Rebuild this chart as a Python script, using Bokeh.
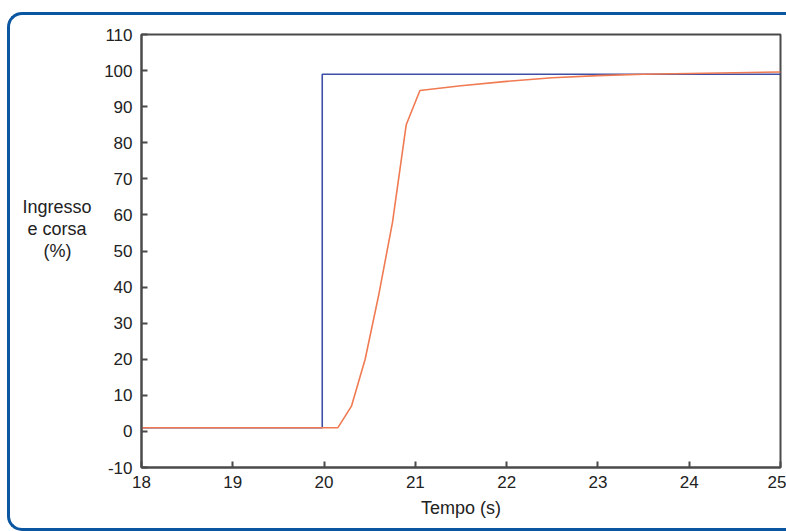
from bokeh.plotting import figure
from bokeh.models import Range1d, FixedTicker, InlineStyleSheet, LinearAxis
from bokeh.embed import file_html
from bokeh.resources import INLINE

# data
input_t = [18.0, 19.98, 19.98, 25.0]
input_v = [1.0, 1.0, 99.0, 99.0]
stroke_t = [18.0, 20.15, 20.3, 20.45, 20.6, 20.75, 20.9, 21.05, 21.5, 22.0, 22.5, 23.0, 23.5, 24.0, 24.5, 25.0]
stroke_v = [1.0, 1.0, 7.0, 20.0, 38.0, 58.0, 85.0, 94.5, 95.8, 97.0, 98.0, 98.6, 99.0, 99.2, 99.4, 99.6]
x_ticks = [18, 19, 20, 21, 22, 23, 24, 25]
y_ticks = [-10, 0, 10, 20, 30, 40, 50, 60, 70, 80, 90, 100, 110]
y_label_lines = ["Ingresso", "e corsa", "(%)"]
x_label = "Tempo (s)"

FONT = "Liberation Sans"
AXC = "#4a4a4a"
NB = "\u00a0"

p = figure(width=786, height=531, output_backend="svg", toolbar_location=None,
           x_range=Range1d(18, 25), y_range=Range1d(-10, 110),
           min_border_left=141, min_border_right=6, min_border_top=34, min_border_bottom=64)
p.background_fill_color = "white"
p.border_fill_color = "white"
p.grid.visible = False
p.outline_line_color = AXC
p.outline_line_width = 2

for ax in (p.xaxis[0], p.yaxis[0]):
    ax.axis_line_color = AXC
    ax.axis_line_width = 2
    ax.major_tick_line_color = AXC
    ax.major_tick_line_width = 2
    ax.major_tick_in = 6
    ax.major_tick_out = 0
    ax.minor_tick_line_color = None
    ax.major_label_text_font = FONT
    ax.major_label_text_font_size = "17px"
    ax.major_label_text_color = "#222222"
    ax.axis_label_text_font = FONT
    ax.axis_label_text_font_size = "18px"
    ax.axis_label_text_font_style = "normal"
    ax.axis_label_text_color = "#222222"

p.xaxis[0].ticker = FixedTicker(ticks=x_ticks)
p.yaxis[0].ticker = FixedTicker(ticks=y_ticks)
p.yaxis[0].major_label_overrides = {t: str(t) for t in y_ticks}
p.xaxis[0].major_label_overrides = {t: str(t) for t in x_ticks}
p.xaxis[0].major_label_standoff = 8
p.yaxis[0].major_label_standoff = 9
p.xaxis[0].axis_label = x_label
p.xaxis[0].axis_label_standoff = 7

# y label: a tick-less axis carrying the three-line label
lab_axis = LinearAxis(ticker=FixedTicker(ticks=[]),
                      axis_line_color=None, major_tick_line_color=None,
                      minor_tick_line_color=None, major_tick_in=0, major_tick_out=0,
                      major_label_text_font_size="1px")
pads = [0, 1, 4]  # non-breaking spaces to centre the right-aligned lines
lines = [t + NB * n for t, n in zip(y_label_lines, pads)] + [NB, NB]  # trailing blank lines lift the block
lab_axis.axis_label = "\n".join(lines)
lab_axis.axis_label_orientation = "horizontal"
lab_axis.axis_label_standoff = 10
lab_axis.axis_label_text_font = FONT
lab_axis.axis_label_text_font_size = "18px"
lab_axis.axis_label_text_font_style = "normal"
lab_axis.axis_label_text_color = "#222222"
lab_axis.axis_label_text_line_height = 1.1
p.add_layout(lab_axis, "left")

p.line(input_t, input_v, line_color="#3f4fa6", line_width=1.6)
p.line(stroke_t, stroke_v, line_color="#f07a52", line_width=1.6)

# rounded blue outer frame, drawn as a CSS overlay that does not affect layout
p.stylesheets = [InlineStyleSheet(css="""
:host::after {
  content: "";
  position: absolute;
  left: 7px;
  top: 12px;
  width: 779px;
  height: 519px;
  box-sizing: border-box;
  border: 3px solid #0b56a0;
  border-right: none;
  border-radius: 15px 0 0 15px;
  pointer-events: none;
}
""")]

open("out.html", "w").write(file_html(p, INLINE))
